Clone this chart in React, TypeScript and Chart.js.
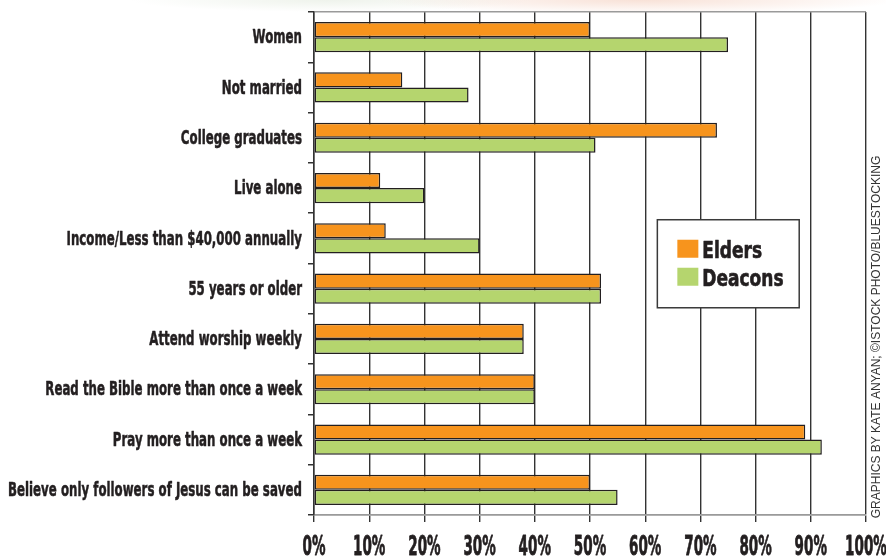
import { useEffect, useRef } from 'react';
import { Chart, registerables } from 'chart.js';

Chart.register(...registerables);

const CATEGORIES = [
  'Women',
  'Not married',
  'College graduates',
  'Live alone',
  'Income/Less than $40,000 annually',
  '55 years or older',
  'Attend worship weekly',
  'Read the Bible more than once a week',
  'Pray more than once a week',
  'Believe only followers of Jesus can be saved',
];
const ELDERS = [50, 16, 73, 12, 13, 52, 38, 40, 89, 50];
const DEACONS = [75, 28, 51, 20, 30, 52, 38, 40, 92, 55];
const SERIES_NAMES = ['Elders', 'Deacons'];
const X_TICKS = [0, 10, 20, 30, 40, 50, 60, 70, 80, 90, 100];
const CREDIT = 'GRAPHICS BY KATE ANYAN; \u00A9ISTOCK PHOTO/BLUESTOCKING';

const ORANGE = '#F7941D';
const GREEN = '#B5D56E';
const INK = '#231F20';
const HEAVY = '"DejaVu Sans", "Liberation Sans", sans-serif';

// draw heavy text squeezed horizontally (condensed look)
function drawCondensed(
  ctx: CanvasRenderingContext2D,
  text: string,
  x: number,
  y: number,
  size: number,
  k: number,
  align: 'left' | 'right' | 'center',
  baseline: CanvasTextBaseline,
  stroke = 0.5,
) {
  ctx.save();
  ctx.font = `bold ${size}px ${HEAVY}`;
  ctx.textAlign = align;
  ctx.textBaseline = baseline;
  ctx.translate(x, y);
  ctx.scale(k, 1);
  ctx.fillStyle = INK;
  ctx.strokeStyle = INK;
  ctx.lineWidth = stroke;
  ctx.lineJoin = 'round';
  ctx.fillText(text, 0, 0);
  if (stroke > 0) ctx.strokeText(text, 0, 0);
  ctx.restore();
}

const labelPlugin = {
  id: 'condensedLabels',
  afterDraw(chart: any) {
    const { ctx, scales } = chart;
    const x = scales.x;
    const y = scales.y;
    ctx.save();
    const ySize = 20;
    ctx.font = `bold ${ySize}px ${HEAVY}`;
    const labels: string[] = y.getLabels();
    const longest = Math.max(...labels.map((l) => ctx.measureText(l).width));
    const ky = 294 / longest;
    labels.forEach((lab, i) => {
      drawCondensed(ctx, lab, y.right - 12, y.getPixelForValue(i) + 1, ySize, ky, 'right', 'middle', 0.6);
    });
    x.ticks.forEach((t: any) => {
      drawCondensed(ctx, `${t.value}%`, x.getPixelForValue(t.value), 555, 26, 0.52, 'center', 'alphabetic', 0.8);
    });
    ctx.restore();
  },
};

const legendPlugin = {
  id: 'boxLegend',
  afterDatasetsDraw(chart: any) {
    const { ctx, chartArea, scales } = chart;
    const x = scales.x;
    const left = x.getPixelForValue(62.2);
    const right = x.getPixelForValue(87.9);
    const h = chartArea.bottom - chartArea.top;
    const top = chartArea.top + h * 0.413;
    const bottom = chartArea.top + h * 0.588;
    ctx.save();
    ctx.fillStyle = '#ffffff';
    ctx.fillRect(left, top, right - left, bottom - top);
    ctx.strokeStyle = '#3a3a3a';
    ctx.lineWidth = 1.5;
    ctx.strokeRect(left, top, right - left, bottom - top);
    chart.data.datasets.forEach((ds: any, i: number) => {
      const sy = top + 20 + i * 28;
      ctx.fillStyle = ds.backgroundColor;
      ctx.fillRect(left + 20, sy, 21, 18);
      drawCondensed(ctx, ds.label, left + 45, sy + 18, 23, 0.74, 'left', 'alphabetic', 0.7);
    });
    ctx.restore();
  },
};

const creditPlugin = {
  id: 'credit',
  afterDraw(chart: any) {
    const { ctx } = chart;
    ctx.save();
    ctx.translate(chart.width - 9.5, 337);
    ctx.rotate(-Math.PI / 2);
    ctx.fillStyle = '#333333';
    ctx.font = '12px "Liberation Sans", Arial, sans-serif';
    ctx.textAlign = 'center';
    ctx.textBaseline = 'middle';
    ctx.fillText(CREDIT, 0, 0);
    ctx.restore();
  },
};

export default function App() {
  const canvasRef = useRef<HTMLCanvasElement | null>(null);

  useEffect(() => {
    if (!canvasRef.current) return;
    const chart = new Chart(canvasRef.current, {
      type: 'bar',
      data: {
        labels: CATEGORIES,
        datasets: [
          {
            label: SERIES_NAMES[0],
            data: ELDERS,
            backgroundColor: ORANGE,
            borderColor: INK,
            borderWidth: 1.5,
            borderSkipped: false,
          },
          {
            label: SERIES_NAMES[1],
            data: DEACONS,
            backgroundColor: GREEN,
            borderColor: INK,
            borderWidth: 1.5,
            borderSkipped: false,
          },
        ],
      },
      options: {
        indexAxis: 'y',
        animation: false,
        responsive: true,
        maintainAspectRatio: false,
        layout: { padding: { left: 6, right: 20, top: 12, bottom: 0 } },
        plugins: {
          legend: { display: false },
          tooltip: { enabled: false },
        },
        datasets: {
          bar: { barPercentage: 1, categoryPercentage: 0.6 },
        },
        scales: {
          x: {
            type: 'linear',
            min: 0,
            max: 100,
            afterBuildTicks: (scale: any) => {
              scale.ticks = X_TICKS.map((v) => ({ value: v }));
            },
            afterFit: (scale: any) => {
              scale.height = 43;
              scale.paddingLeft = 0;
              scale.paddingRight = 0;
            },
            ticks: { display: false },
            grid: {
              color: '#333333',
              lineWidth: 1.4,
              tickLength: 7,
              tickColor: '#333333',
            },
            border: { display: true, color: '#9a9a9a', width: 1.5 },
          },
          y: {
            type: 'category',
            afterFit: (scale: any) => {
              scale.width = 308;
              scale.paddingTop = 0;
              scale.paddingBottom = 0;
            },
            ticks: { display: false },
            grid: {
              offset: true,
              drawOnChartArea: true,
              color: (c: any) => (c.index === 0 || c.index === undefined ? '#9a9a9a' : 'rgba(0,0,0,0)'),
              lineWidth: 1.5,
              tickLength: 6,
              tickColor: '#333333',
            },
            border: { display: true, color: '#333333', width: 1.5 },
          },
        },
      },
      plugins: [legendPlugin, labelPlugin, creditPlugin],
    } as any);
    return () => chart.destroy();
  }, []);

  return (
    <div
      style={{
        position: 'absolute',
        left: 0,
        top: 0,
        width: 886,
        height: 558,
        background:
          'radial-gradient(ellipse 260px 14px at 640px 0px, rgba(235,170,140,0.35), rgba(255,255,255,0) 100%), radial-gradient(ellipse 200px 12px at 330px 0px, rgba(200,215,190,0.3), rgba(255,255,255,0) 100%), #ffffff',
      }}
    >
      <canvas ref={canvasRef} />
    </div>
  );
}
